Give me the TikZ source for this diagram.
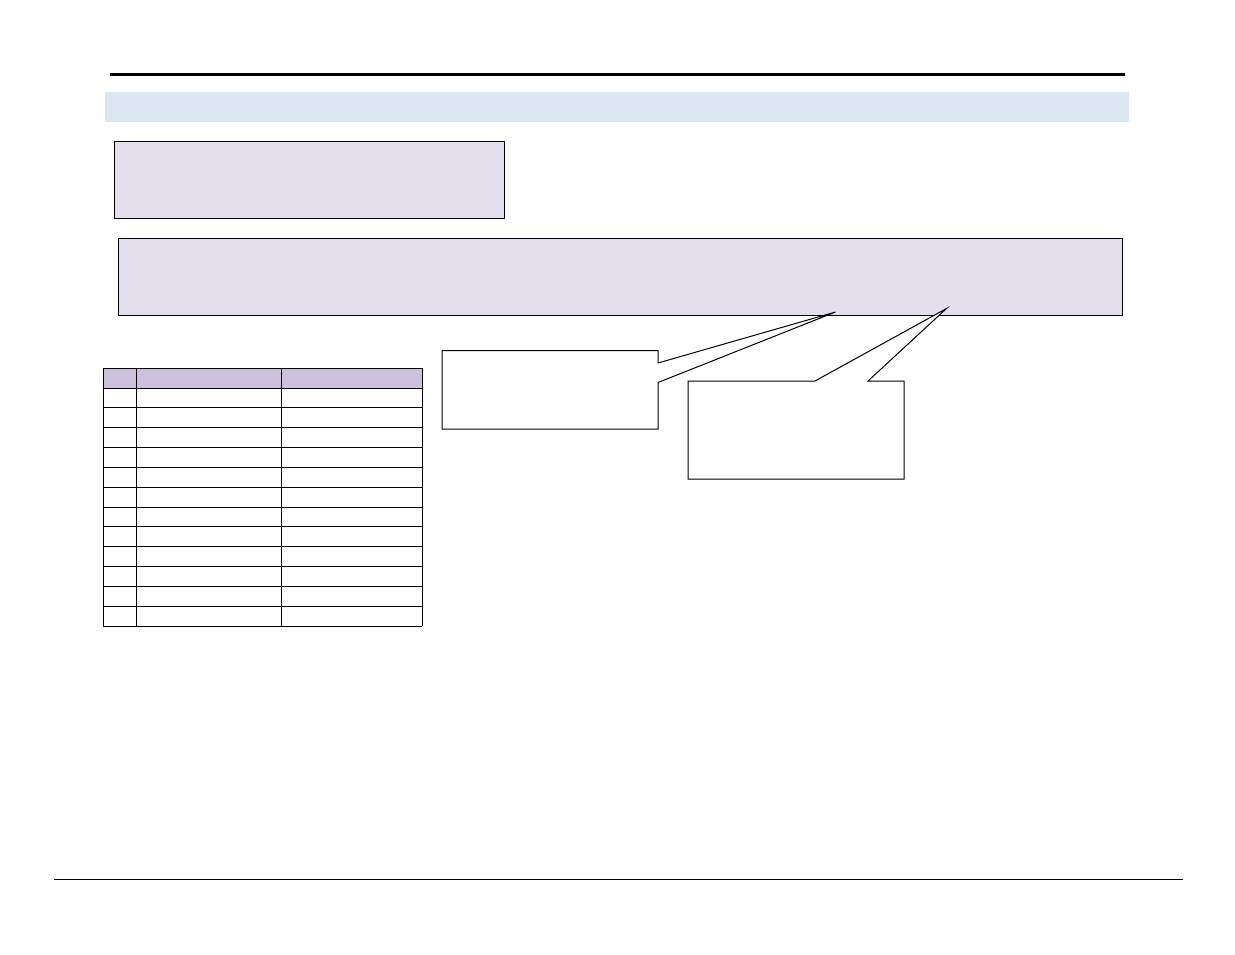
\documentclass[tikz,border=0pt]{standalone}
\usepackage{tikz}
\usetikzlibrary{positioning}
\definecolor{bandblue}{HTML}{DCE6F1}
\definecolor{boxlilac}{HTML}{E4DFEC}
\definecolor{headlilac}{HTML}{CCC0DA}

\begin{document}
\begin{tikzpicture}[x=1pt,y=-1pt,
  panel/.style={draw,line width=1.2pt,fill=boxlilac,anchor=north west,inner sep=0pt},
  callout/.style={draw,line width=1pt,fill=white,line join=miter},
  cell/.style={draw,line width=0.9pt}]
  \useasboundingbox (0,0) rectangle (1235,954);

  % header rule and band
  \draw[line width=3pt] (110,74.5) -- (1125,74.5);
  \node[fill=bandblue,anchor=north west,minimum width=1024pt,minimum height=30pt,inner sep=0pt] (band) at (105,92) {};

  % lilac panels
  \node[panel,minimum width=390pt,minimum height=77pt] (note) at (114,141) {};
  \node[panel,minimum width=1004pt,minimum height=77pt] (banner) at (118,238) {};

  % table
  \fill[headlilac] (103,368) rectangle (422,388);
  \draw[cell] (103,368) -- (422,368);
  \foreach \r in {0,...,12}
    \draw[cell] (103,388+\r*19.83) -- (422,388+\r*19.83);
  \foreach \c in {103,136,281,422}
    \draw[cell] (\c,368) -- (\c,626);

  % callouts
  \coordinate (tipA) at (835.5,312);
  \coordinate (tipB) at (946.5,308.5);
  \path[callout] (442,350.5) -- (658,350.5) -- (658,363) -- (tipA)
    -- (658,382.5) -- (658,429) -- (442,429) -- cycle;
  \path[callout] (688,381) -- (815,381) -- (tipB) -- (868,381)
    -- (904,381) -- (904,479) -- (688,479) -- cycle;

  % footer rule
  \draw[line width=1pt] (54,879) -- (1183,879);
\end{tikzpicture}
\end{document}
